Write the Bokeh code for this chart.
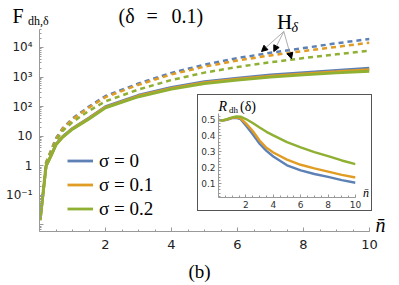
from bokeh.plotting import figure
from bokeh.models import (Range1d, FixedTicker, Label, Arrow, NormalHead,
                          Legend, LegendItem)
from bokeh.embed import file_html
from bokeh.resources import INLINE

# ---------------- data ----------------
n_main = [0.02, 0.2, 0.35, 0.5, 0.7, 1, 1.5, 2, 3, 4, 5, 6, 7, 8, 9, 10]
# solid: F_dh,delta
F_s0 = [0.0145, 1.0, 2.25, 5.35, 9.7, 18.4, 41.5, 100, 243, 447, 695, 925, 1175, 1420, 1680, 1990]
F_s1 = [0.0145, 1.0, 2.2, 5.25, 9.4, 17.8, 39.8, 95.5, 229, 417, 646, 851, 1070, 1290, 1510, 1780]
F_s2 = [0.0145, 0.98, 2.15, 5.1, 9.1, 17.2, 38.0, 91, 215, 390, 600, 790, 990, 1190, 1380, 1570]
# dashed: H_delta
H_s0 = [0.018, 1.3, 3.3, 8.5, 18.5, 39.8, 100, 229, 603, 1380, 2630, 4370, 6610, 9550, 13800, 19500]
H_s1 = [0.018, 1.26, 3.2, 8.0, 17.5, 37.2, 93, 209, 550, 1230, 2240, 3630, 5370, 7590, 10500, 14500]
H_s2 = [0.018, 1.2, 3.0, 7.0, 15.0, 30.2, 72, 151, 380, 794, 1410, 2190, 3160, 4370, 5890, 7760]

n_inset = [0, 0.3, 0.6, 1, 1.3, 1.6, 2, 2.5, 3, 3.5, 4, 5, 6, 7, 8, 9, 10]
R_s0 = [0.50, 0.495, 0.50, 0.511, 0.513, 0.505, 0.465, 0.41, 0.35, 0.305, 0.27, 0.215, 0.183, 0.16, 0.142, 0.122, 0.105]
R_s1 = [0.50, 0.496, 0.502, 0.513, 0.516, 0.51, 0.478, 0.43, 0.37, 0.325, 0.295, 0.25, 0.218, 0.195, 0.175, 0.155, 0.138]
R_s2 = [0.50, 0.497, 0.505, 0.516, 0.521, 0.52, 0.505, 0.48, 0.452, 0.425, 0.403, 0.36, 0.328, 0.298, 0.272, 0.245, 0.222]

sigma_labels = ["σ = 0", "σ = 0.1", "σ = 0.2"]
colors = ["#5E81B5", "#E19C24", "#8FB032"]

x_major = [2, 4, 6, 8, 10]
y_major = [0.01, 0.1, 1, 10, 100, 1000, 10000]
y_labels = {0.01: "", 0.1: "10⁻¹", 1: "1", 10: "10", 100: "10²", 1000: "10³", 10000: "10⁴"}
inset_x_major = [2, 4, 6, 8, 10]
inset_y_major = [0.1, 0.2, 0.3, 0.4, 0.5]

SERIF = "Liberation Serif"
SANS = "DejaVu Sans"
AX = "#999999"
W, H = 398, 284

# ---------------- main figure ----------------
p = figure(width=W, height=H, x_range=Range1d(0, 10), y_range=Range1d(0.006, 40500),
           y_axis_type="log", output_backend="svg", toolbar_location=None,
           min_border_left=39, min_border_right=29, min_border_top=29, min_border_bottom=53)
p.xgrid.visible = False
p.ygrid.visible = False
p.outline_line_color = None
p.background_fill_color = "white"
p.border_fill_color = "white"

minor_x = [i * 0.5 for i in range(1, 21)]
p.xaxis.ticker = FixedTicker(ticks=x_major, minor_ticks=minor_x)
minor_y = [k * 10.0 ** d for d in range(-3, 5) for k in range(2, 10)]
p.yaxis.ticker = FixedTicker(ticks=y_major, minor_ticks=minor_y)
p.yaxis.major_label_overrides = y_labels

for ax in (p.xaxis, p.yaxis):
    ax.axis_line_color = AX
    ax.major_tick_line_color = AX
    ax.minor_tick_line_color = AX
    ax.major_tick_in = 4
    ax.major_tick_out = 0
    ax.minor_tick_in = 2
    ax.minor_tick_out = 0
    ax.major_label_text_font = SANS
    ax.major_label_text_color = "#222222"
p.xaxis.major_label_text_font_size = "13px"
p.yaxis.major_label_text_font_size = "12px"
p.xaxis.major_label_standoff = 8
p.yaxis.major_label_standoff = 7

for ys, c in zip([H_s0, H_s1, H_s2], colors):
    p.line(n_main, ys, line_color=c, line_width=2.5, line_dash="5 4")
solid = []
for ys, c in zip([F_s0, F_s1, F_s2], colors):
    solid.append(p.line(n_main, ys, line_color=c, line_width=2.8))

legend = Legend(items=[LegendItem(label=l, renderers=[r]) for l, r in zip(sigma_labels, solid)],
                location=(28, 11), orientation="vertical", padding=0, margin=0,
                spacing=1, glyph_width=26, glyph_height=23, label_height=23,
                label_standoff=6, border_line_color=None, background_fill_alpha=0,
                label_text_font=SERIF, label_text_font_size="19px", label_text_color="black")
p.add_layout(legend)

# ---------------- inset (separate root, absolutely placed) ----------------
q = figure(width=175, height=117, x_range=Range1d(0, 10), y_range=Range1d(0.0125, 0.54),
           output_backend="svg", toolbar_location=None,
           min_border_left=20, min_border_right=18, min_border_top=18, min_border_bottom=15)
q.xgrid.visible = False
q.ygrid.visible = False
q.outline_line_color = None
q.xaxis.ticker = FixedTicker(ticks=inset_x_major, minor_ticks=minor_x)
q.yaxis.ticker = FixedTicker(ticks=inset_y_major,
                             minor_ticks=[round(0.02 * i, 2) for i in range(1, 27)])
for ax in (q.xaxis, q.yaxis):
    ax.axis_line_color = AX
    ax.major_tick_line_color = AX
    ax.minor_tick_line_color = AX
    ax.major_tick_in = 3
    ax.major_tick_out = 0
    ax.minor_tick_in = 2
    ax.minor_tick_out = 0
    ax.major_label_text_font = SANS
    ax.major_label_text_font_size = "9px"
    ax.major_label_text_color = "#333333"
    ax.major_label_standoff = 3

for ys, c in zip([R_s0, R_s1, R_s2], colors):
    q.line(n_inset, ys, line_color=c, line_width=2.4)

q.styles = {"position": "absolute", "left": "197px", "top": "94px",
            "border": "1px solid #555555", "background-color": "white"}

# ---------------- text / arrow overlay (page pixel coordinates) ----------------
t = figure(width=W, height=H, x_range=Range1d(0, W), y_range=Range1d(0, H), title=None,
           x_axis_location=None, y_axis_location=None, output_backend="svg",
           toolbar_location=None, min_border=0, min_border_left=0, min_border_right=0,
           min_border_top=0, min_border_bottom=0)
t.xgrid.visible = False
t.ygrid.visible = False
t.outline_line_color = None
t.background_fill_alpha = 0
t.border_fill_alpha = 0
t.styles = {"position": "absolute", "left": "0px", "top": "0px"}

def lab(text, px, py, size, style="normal", align="left"):
    # py is the wanted baseline (page px); the renderer draws ~0.3 em lower
    fs = float(size.replace("px", ""))
    t.add_layout(Label(x=px, y=H - py + 0.3 * fs, x_units="screen", y_units="screen",
                       text=text, text_font=SERIF, text_font_size=size,
                       text_font_style=style, text_align=align,
                       text_baseline="alphabetic", text_color="black"))

# title
lab("F", 12, 21, "20px")
lab("dh,δ", 27.5, 24, "12px")
lab("(δ", 118, 21, "20px")
lab("=", 146, 21, "20px")
lab("0.1)", 171, 21, "20px")
# H_delta
lab("H", 276.5, 28, "21px")
lab("δ", 291, 31, "14px", style="italic")
# caption and axis label
lab("(b)", 199, 277, "19px", align="center")
lab("n̄", 375, 230, "20px", style="italic")
# inset texts
lab("R", 218, 110, "14px", style="italic")
lab("dh", 228.5, 112.5, "9px")
lab("(δ)", 239.5, 110, "14px")
lab("n̄", 362.5, 196, "12px", style="italic")

for ex, ey in [(261, 51), (273.3, 51), (291, 58.3)]:
    t.add_layout(Arrow(x_start=283.3, y_start=H - 31, x_end=ex, y_end=H - ey,
                       start_units="screen", end_units="screen",
                       line_color="#999999", line_width=0.8,
                       end=NormalHead(size=6, fill_color="black", line_color="black")))

open("out.html", "w").write(file_html([p, q, t], INLINE))
